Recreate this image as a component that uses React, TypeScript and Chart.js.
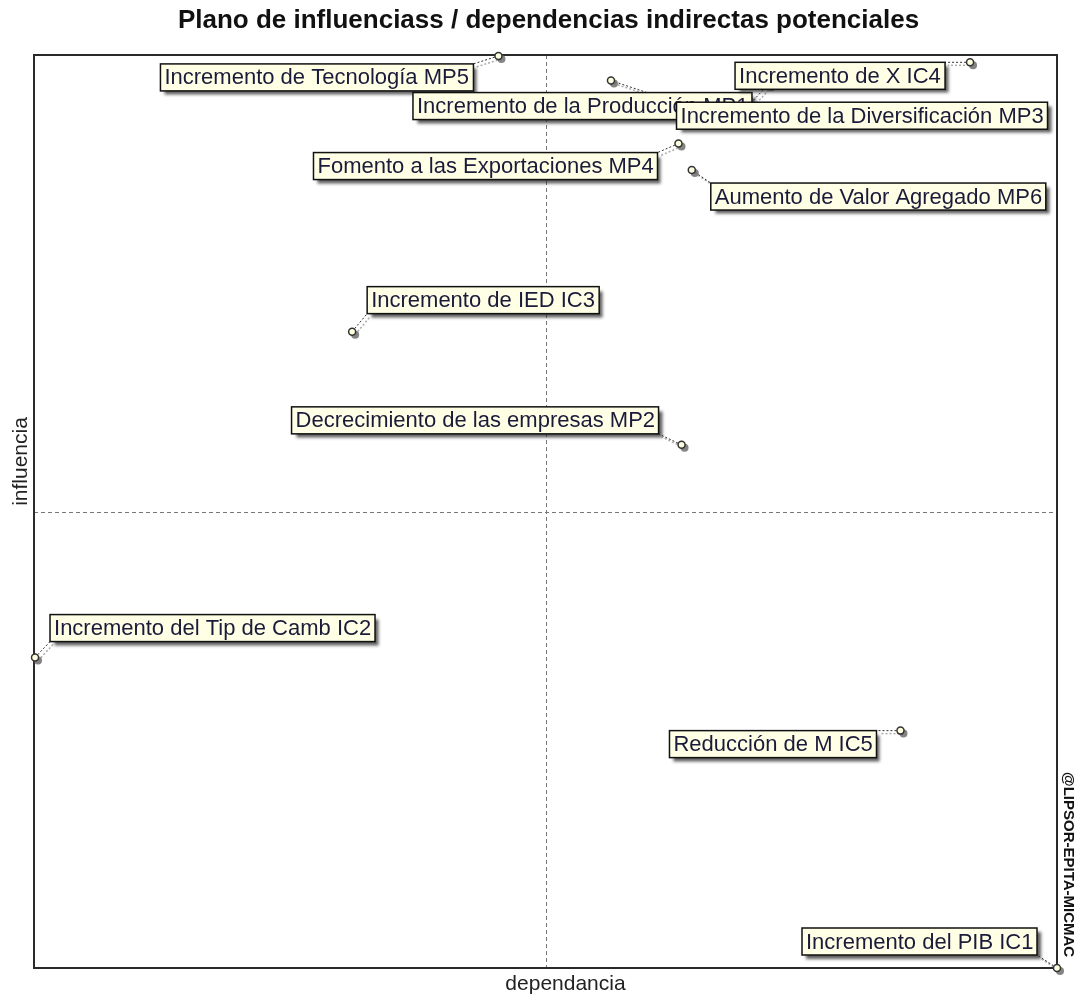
import { useEffect, useRef } from 'react';
import { Chart, registerables } from 'chart.js';

Chart.register(...registerables);

// ---- data ----
const variableLabels = [
  'Incremento de Tecnología MP5',
  'Incremento de la Producción MP1',
  'Incremento de X IC4',
  'Incremento de la Diversificación MP3',
  'Fomento a las Exportaciones MP4',
  'Aumento de Valor Agregado MP6',
  'Incremento de IED IC3',
  'Decrecimiento de las empresas MP2',
  'Incremento del Tip de Camb IC2',
  'Reducción de M IC5',
  'Incremento del PIB IC1',
];
const dependanceValues = [45.4, 56.4, 91.5, 71.8, 63.0, 64.3, 31.1, 63.3, 0.1, 84.7, 100];
const influenceValues = [99.9, 97.2, 99.2, 96.8, 90.3, 87.4, 69.7, 57.3, 34.0, 26.0, 0];
const axisMeans = [50, 50]; // [dependance mean, influence mean]

const chartTitle = 'Plano de influenciass / dependencias indirectas potenciales';
const xTitle = 'dependancia';
const yTitle = 'influencia';
const watermarkText = '@LIPSOR-EPITA-MICMAC';

// ---- label placement (layout only, px relative to the point) ----
const labelPlacement: any[] = [
  { side: 'right', dx: -25, dy: 8 },
  { side: 'left', dx: -198, dy: 12, lead: [36, 12] },
  { side: 'right', dx: -25, dy: 0 },
  { side: 'left', dx: -92, dy: 18, lead: [-16, 17] },
  { side: 'right', dx: -21, dy: 9 },
  { side: 'left', dx: 19, dy: 13 },
  { side: 'left', dx: 15, dy: -45 },
  { side: 'right', dx: -23, dy: -38 },
  { side: 'left', dx: 15, dy: -43 },
  { side: 'right', dx: -24, dy: 0 },
  { side: 'right', dx: -20, dy: -40 },
];

const LABEL_FONT = '22px "Liberation Sans", Arial, sans-serif';
const BOX_H = 27;
const PAD = 4;

function computeBoxes(chart: any) {
  const { ctx, scales } = chart;
  ctx.save();
  ctx.font = LABEL_FONT;
  const boxes = variableLabels.map((txt, i) => {
    const px = scales.x.getPixelForValue(dependanceValues[i]);
    const py = scales.y.getPixelForValue(influenceValues[i]);
    const w = Math.round(ctx.measureText(txt).width) + PAD * 2;
    const p = labelPlacement[i];
    const left = p.side === 'right' ? px + p.dx - w : px + p.dx;
    const top = py + p.dy;
    let tx = Math.min(Math.max(px, left), left + w);
    let ty = Math.min(Math.max(py, top), top + BOX_H);
    if (p.lead) {
      tx = px + p.lead[0];
      ty = py + p.lead[1];
    }
    return { txt, px, py, left, top, w, h: BOX_H, tx, ty };
  });
  ctx.restore();
  return boxes;
}

const micmacPlugin = {
  id: 'micmacDecor',
  beforeDatasetsDraw(chart: any) {
    const { ctx, chartArea: a, scales } = chart;
    ctx.save();
    // mean lines
    ctx.strokeStyle = '#777';
    ctx.lineWidth = 1;
    ctx.setLineDash([4, 3]);
    const mx = Math.round(scales.x.getPixelForValue(axisMeans[0])) + 0.5;
    const my = Math.round(scales.y.getPixelForValue(axisMeans[1])) + 0.5;
    ctx.beginPath();
    ctx.moveTo(mx, a.top);
    ctx.lineTo(mx, a.bottom);
    ctx.moveTo(a.left, my);
    ctx.lineTo(a.right, my);
    ctx.stroke();
    // frame
    ctx.setLineDash([]);
    ctx.strokeStyle = '#2a2a2a';
    ctx.lineWidth = 2;
    ctx.strokeRect(a.left, a.top, a.width, a.height);

    const boxes = computeBoxes(chart);
    // leader lines (shadow then line)
    boxes.forEach((b) => {
      ctx.setLineDash([2, 2]);
      ctx.lineWidth = 1.5;
      ctx.strokeStyle = 'rgba(150,150,150,0.8)';
      ctx.beginPath();
      ctx.moveTo(b.px + 3, b.py + 3);
      ctx.lineTo(b.tx + 3, b.ty + 3);
      ctx.stroke();
      ctx.lineWidth = 1;
      ctx.strokeStyle = '#333';
      ctx.beginPath();
      ctx.moveTo(b.px, b.py);
      ctx.lineTo(b.tx, b.ty);
      ctx.stroke();
    });
    // point shadows
    ctx.setLineDash([]);
    ctx.fillStyle = 'rgba(110,110,110,0.85)';
    boxes.forEach((b) => {
      ctx.beginPath();
      ctx.arc(b.px + 3, b.py + 3, 4, 0, Math.PI * 2);
      ctx.fill();
    });
    ctx.restore();
  },
  afterDatasetsDraw(chart: any) {
    const { ctx } = chart;
    const boxes = computeBoxes(chart);
    ctx.save();
    ctx.font = LABEL_FONT;
    ctx.textBaseline = 'middle';
    ctx.textAlign = 'left';
    boxes.forEach((b) => {
      ctx.save();
      ctx.shadowColor = 'rgba(40,40,40,0.75)';
      ctx.shadowOffsetX = 4;
      ctx.shadowOffsetY = 4;
      ctx.shadowBlur = 3;
      ctx.fillStyle = '#ffffe6';
      ctx.fillRect(b.left, b.top, b.w, b.h);
      ctx.restore();
      ctx.lineWidth = 1.5;
      ctx.strokeStyle = '#111';
      ctx.strokeRect(b.left, b.top, b.w, b.h);
      ctx.fillStyle = '#1a1a3a';
      ctx.fillText(b.txt, b.left + PAD, b.top + b.h / 2 + 1);
    });
    ctx.restore();
  },
  afterDraw(chart: any) {
    const { ctx, chartArea: a } = chart;
    const cx = (a.left + a.right) / 2;
    ctx.save();
    ctx.fillStyle = '#111';
    ctx.font = 'bold 26px "Liberation Sans", Arial, sans-serif';
    ctx.textAlign = 'center';
    ctx.textBaseline = 'alphabetic';
    ctx.fillText(chartTitle, cx + 3, 28);

    ctx.font = '21px "Liberation Sans", Arial, sans-serif';
    ctx.fillStyle = '#222';
    ctx.fillText(xTitle, cx + 20, 990);

    ctx.save();
    ctx.translate(21, (a.top + a.bottom) / 2 - 50);
    ctx.rotate(-Math.PI / 2);
    ctx.textBaseline = 'middle';
    ctx.fillText(yTitle, 0, 0);
    ctx.restore();

    ctx.save();
    ctx.font = 'bold 15px "Liberation Sans", Arial, sans-serif';
    ctx.fillStyle = '#111';
    ctx.translate(a.right + 11, 772);
    ctx.rotate(Math.PI / 2);
    ctx.textAlign = 'left';
    ctx.textBaseline = 'middle';
    ctx.fillText(watermarkText, 0, 0);
    ctx.restore();
    ctx.restore();
  },
};

export default function App() {
  const canvasRef = useRef<HTMLCanvasElement | null>(null);

  useEffect(() => {
    if (!canvasRef.current) return;
    const chart = new Chart(canvasRef.current, {
      type: 'scatter',
      data: {
        datasets: [
          {
            label: 'variables',
            data: dependanceValues.map((d, i) => ({ x: d, y: influenceValues[i] })),
            pointStyle: 'circle',
            pointRadius: 3.5,
            pointBorderWidth: 1.5,
            pointBorderColor: '#333',
            pointBackgroundColor: '#ffffe0',
            showLine: false,
            clip: false as any,
          },
        ],
      },
      options: {
        animation: false,
        responsive: false,
        devicePixelRatio: 1,
        layout: { padding: { left: 34, top: 55, right: 20, bottom: 27 } },
        plugins: {
          legend: { display: false },
          tooltip: { enabled: false },
          title: { display: false },
        },
        scales: {
          x: { type: 'linear', min: 0, max: 100, display: false },
          y: { type: 'linear', min: 0, max: 100, display: false },
        },
      },
      plugins: [micmacPlugin],
    });
    return () => chart.destroy();
  }, []);

  return (
    <div style={{ position: 'fixed', left: 0, top: 0, width: 1077, height: 995, background: '#fff' }}>
      <canvas ref={canvasRef} width={1077} height={995} style={{ display: 'block' }} />
    </div>
  );
}
